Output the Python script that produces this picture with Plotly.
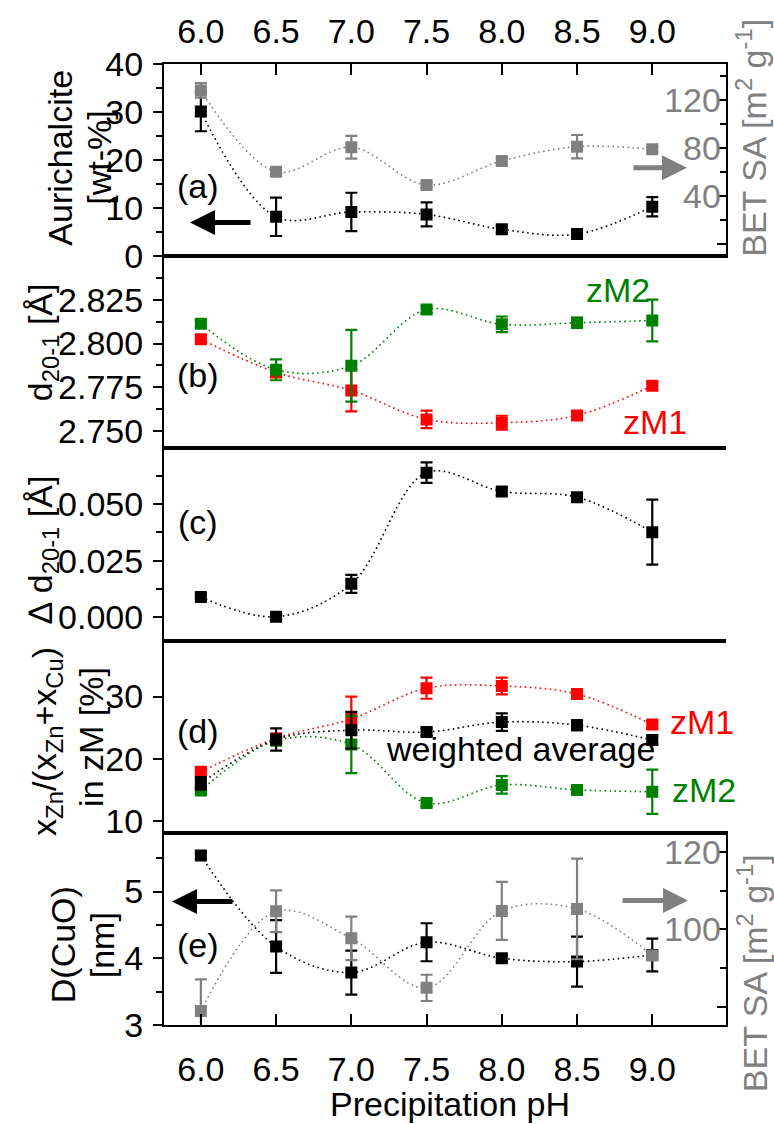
import plotly.graph_objects as go

# ---------------- data ----------------
ph = [6.0, 6.5, 7.0, 7.5, 8.0, 8.5, 9.0]
ph_ticks = [6.0, 6.5, 7.0, 7.5, 8.0, 8.5, 9.0]
ph_ticktext = ["6.0", "6.5", "7.0", "7.5", "8.0", "8.5", "9.0"]

# (a) aurichalcite content (left) and BET SA of precursor (right)
aurichalcite = [30.1, 8.2, 9.2, 8.7, 5.6, 4.6, 10.3]
aurichalcite_err = [4.1, 4.0, 4.0, 2.5, 0.8, 0.7, 2.0]
bet_a = [128, 60.4, 80.7, 49.3, 69.3, 81.2, 79.0]
bet_a_err = [6, 2, 9.5, 2, 2.5, 9.7, 2]

# (b) d(20-1) of zM1 and zM2
d_zm1 = [2.8025, 2.7835, 2.7732, 2.7566, 2.7547, 2.7589, 2.7759]
d_zm1_err = [0.002, 0.002, 0.012, 0.005, 0.004, 0.002, 0.002]
d_zm2 = [2.8113, 2.7850, 2.7873, 2.8195, 2.8110, 2.8119, 2.8132]
d_zm2_err = [0.002, 0.006, 0.0205, 0.002, 0.0045, 0.003, 0.012]

# (c) difference of d(20-1)
delta_d = [0.0090, 0.0003, 0.0148, 0.0638, 0.0555, 0.0530, 0.0376]
delta_d_err = [0.0015, 0.001, 0.004, 0.0045, 0.0015, 0.0015, 0.0143]

# (d) Zn fraction in zM phases
xzn_zm1 = [17.9, 23.3, 26.4, 31.35, 31.7, 30.4, 25.5]
xzn_zm1_err = [0.5, 0.5, 3.6, 1.7, 1.35, 0.7, 0.6]
xzn_zm2 = [14.9, 22.9, 22.3, 12.9, 15.8, 15.0, 14.7]
xzn_zm2_err = [0.5, 0.5, 4.6, 0.5, 1.4, 0.7, 3.55]
xzn_avg = [16.05, 23.1, 24.6, 24.3, 25.9, 25.4, 23.0]
xzn_avg_err = [1.0, 1.8, 2.95, 0.6, 1.4, 0.8, 0.6]

# (e) CuO crystallite size (left) and BET SA of calcined samples (right)
d_cuo = [5.54, 4.175, 3.785, 4.24, 4.0, 3.95, 4.05]
d_cuo_err = [0.05, 0.395, 0.33, 0.285, 0.05, 0.375, 0.245]
bet_e = [78.9, 104.7, 97.7, 84.9, 104.8, 105.3, 93.3]
bet_e_err = [8.2, 5.4, 5.6, 3.4, 7.5, 13.0, 1.0]

# ---------------- style ----------------
BLACK = "#000000"
GREY = "#808080"
RED = "#ff0000"
GREEN = "#008000"
FONT = "Liberation Sans, Arial, sans-serif"
TICKFS = 34
TITLEFS = 34

W, H = 774, 1124
ML, MR, MT, MB = 164, 48, 61, 99
PW = W - ML - MR
PH = H - MT - MB


def fx(px):
    return (px - ML) / PW


def fy(py):
    return (H - MB - py) / PH


fig = go.Figure()


def series(x, y, err, color, xa, ya, width=1.6):
    fig.add_trace(go.Scatter(
        x=x, y=y, xaxis=xa, yaxis=ya, mode="lines+markers",
        line=dict(color=color, width=width, dash="1.6px,3.4px", shape="spline", smoothing=1.0),
        marker=dict(symbol="square", size=12, color=color),
        error_y=dict(type="data", array=err, visible=True, color=color, thickness=2.2, width=6),
        showlegend=False, cliponaxis=True,
    ))


# panel a
series(ph, bet_a, bet_a_err, GREY, "x", "y2")
series(ph, aurichalcite, aurichalcite_err, BLACK, "x", "y")
# panel b
series(ph, d_zm1, d_zm1_err, RED, "x2", "y3")
series(ph, d_zm2, d_zm2_err, GREEN, "x2", "y3")
# panel c
series(ph, delta_d, delta_d_err, BLACK, "x3", "y5")
# panel d
series(ph, xzn_zm1, xzn_zm1_err, RED, "x4", "y7")
series(ph, xzn_zm2, xzn_zm2_err, GREEN, "x4", "y7")
series(ph, xzn_avg, xzn_avg_err, BLACK, "x4", "y7")
# panel e
series(ph, d_cuo, d_cuo_err, BLACK, "x5", "y9")
series(ph, bet_e, bet_e_err, GREY, "x5", "y10")

XR = [5.755, 9.49]
doms = [[0.8, 1.0], [0.6, 0.8], [0.4, 0.6], [0.2, 0.4], [0.0, 0.2]]
tickfont = dict(family=FONT, size=TICKFS, color=BLACK)

lay = dict(
    width=W, height=H, margin=dict(l=ML, r=MR, t=MT, b=MB),
    paper_bgcolor="white", plot_bgcolor="white",
    font=dict(family=FONT, size=TITLEFS, color=BLACK),
)

# x axes
xnames = ["xaxis", "xaxis2", "xaxis3", "xaxis4", "xaxis5"]
yleft = ["y", "y3", "y5", "y7", "y9"]
for i, xn in enumerate(xnames):
    ax = dict(range=XR, domain=[0, 1], anchor=yleft[i], showline=True, linecolor=BLACK,
              linewidth=1.5, mirror=True, showgrid=False, zeroline=False,
              tickvals=ph_ticks, ticktext=ph_ticktext, tickfont=tickfont)
    if i == 0:
        ax.update(side="top", ticks="inside", ticklen=11, tickwidth=2, tickcolor=BLACK,
                  showticklabels=True, ticklabelstandoff=6)
    elif i == 4:
        ax.update(side="bottom", ticks="inside", ticklen=11, tickwidth=2, tickcolor=BLACK,
                  showticklabels=True, ticklabelstandoff=13)
    else:
        ax.update(ticks="", showticklabels=False)
    if i > 0:
        ax["matches"] = "x"
    lay[xn] = ax


def left_axis(dom, anchor, rng, tickvals, ticktext, minor_vals):
    d = dict(domain=dom, anchor=anchor, range=rng, side="left", showline=True, linecolor=BLACK,
             linewidth=2, mirror=False, showgrid=False, zeroline=False,
             ticks="outside", ticklen=9, tickwidth=2, tickcolor=BLACK,
             tickvals=tickvals, ticktext=ticktext, tickfont=tickfont, ticklabelstandoff=3)
    if minor_vals:
        d["minor"] = dict(ticks="outside", ticklen=6, tickwidth=2, tickcolor=BLACK, tickvals=minor_vals)
    return d


def right_axis(dom, anchor, over, rng, tickvals, ticktext, minor_vals, labels):
    d = dict(domain=dom, anchor=anchor, overlaying=over, range=rng, side="right", showline=True,
             linecolor=BLACK, linewidth=2, showgrid=False, zeroline=False,
             ticks="inside", ticklen=9, tickwidth=2, tickcolor=BLACK,
             tickvals=tickvals, ticktext=ticktext, showticklabels=labels,
             tickfont=dict(family=FONT, size=TICKFS, color=GREY),
             ticklabelposition="inside")
    if minor_vals:
        d["minor"] = dict(ticks="inside", ticklen=6, tickwidth=2, tickcolor=BLACK, tickvals=minor_vals)
    return d


# panel a
a_ticks = [0, 10, 20, 30, 40]
a_minor = [5, 15, 25, 35]
bet_a_ticks = [0, 40, 80, 120]
bet_a_minor = [20, 60, 100, 140]
lay["yaxis"] = left_axis(doms[0], "x", [0, 40], a_ticks, [str(v) for v in a_ticks], a_minor)
lay["yaxis2"] = right_axis(doms[0], "x", "y", [-10, 150], bet_a_ticks,
                           [str(v) for v in bet_a_ticks], bet_a_minor, True)
# panel b
b_ticks = [2.750, 2.775, 2.800, 2.825]
b_text = ["2.750", "2.775", "2.800", "2.825"]
b_minor = [2.7625, 2.7875, 2.8125, 2.8375]
b_rng = [2.74, 2.85]
lay["yaxis3"] = left_axis(doms[1], "x2", b_rng, b_ticks, b_text, b_minor)
lay["yaxis4"] = right_axis(doms[1], "x2", "y3", b_rng, b_ticks, b_text, b_minor, False)
# panel c
c_ticks = [0.0, 0.025, 0.050]
c_text = ["0.000", "0.025", "0.050"]
c_minor = [0.0125, 0.0375, 0.0625]
c_rng = [-0.0102, 0.0745]
lay["yaxis5"] = left_axis(doms[2], "x3", c_rng, c_ticks, c_text, c_minor)
lay["yaxis6"] = right_axis(doms[2], "x3", "y5", c_rng, c_ticks, c_text, c_minor, False)
# panel d
d_ticks = [10, 20, 30]
d_rng = [8.1, 39.0]
lay["yaxis7"] = left_axis(doms[3], "x4", d_rng, d_ticks, [str(v) for v in d_ticks], None)
lay["yaxis8"] = right_axis(doms[3], "x4", "y7", d_rng, d_ticks, [str(v) for v in d_ticks], None, False)
# panel e
e_ticks = [3, 4, 5]
e_minor = [3.5, 4.5, 5.5]
bet_e_ticks = [80, 100, 120]
bet_e_minor = [90, 110]
lay["yaxis9"] = left_axis(doms[4], "x5", [3, 5.88], e_ticks, [str(v) for v in e_ticks], e_minor)
lay["yaxis10"] = right_axis(doms[4], "x5", "y9", [75.3, 125], bet_e_ticks,
                            [str(v) for v in bet_e_ticks], bet_e_minor, True)

fig.update_layout(**lay)

anns = []


def text(px, py, s, color=BLACK, angle=0, size=TITLEFS, xanchor="center"):
    anns.append(dict(x=fx(px), y=fy(py), xref="paper", yref="paper", text=s, showarrow=False,
                     textangle=angle, xanchor=xanchor, yanchor="middle",
                     font=dict(family=FONT, size=size, color=color)))


def arrow(tip_x, tail_x, py, color):
    anns.append(dict(x=fx(tip_x), y=fy(py), xref="paper", yref="paper", text="",
                     showarrow=True, ax=tail_x - tip_x, ay=0, arrowhead=2, arrowsize=1.0,
                     arrowwidth=5, arrowcolor=color, standoff=0))


# y-axis titles (each line placed separately)
text(60, 155, "Aurichalcite", angle=-90)
text(99, 155, "[wt-%]", angle=-90)
text(42, 340, "d<sub>20-1</sub> [Å]", angle=-90)
text(42, 548, "∆ d<sub>20-1</sub> [Å]", angle=-90)
text(47, 741, "x<sub>Zn</sub>/(x<sub>Zn</sub>+x<sub>Cu</sub>)", angle=-90)
text(91, 736, "in zM [%]", angle=-90)
text(63, 945, "D(CuO)", angle=-90)
text(102, 945, "[nm]", angle=-90)
text(752, 135, "BET SA [m<sup>2</sup> g<sup>-1</sup>]", color=GREY, angle=-90)
text(752, 973, "BET SA [m<sup>2</sup> g<sup>-1</sup>]", color=GREY, angle=-90)
# x title
text(450, 1104, "Precipitation pH")

# panel labels
text(198, 183, "(a)")
text(198, 373, "(b)")
text(198, 520, "(c)")
text(198, 730, "(d)")
text(198, 945, "(e)")

# series labels
text(618, 288, "zM2", color=GREEN)
text(655, 420, "zM1", color=RED)
text(702, 721, "zM1", color=RED)
text(704, 789, "zM2", color=GREEN)
text(520, 748, "weighted average")

# arrows
arrow(190, 252, 220, BLACK)
arrow(687, 632, 165, GREY)
arrow(172, 234, 901, BLACK)
arrow(688, 621, 900, GREY)

fig.update_layout(annotations=anns)
fig.write_html("out.html")
